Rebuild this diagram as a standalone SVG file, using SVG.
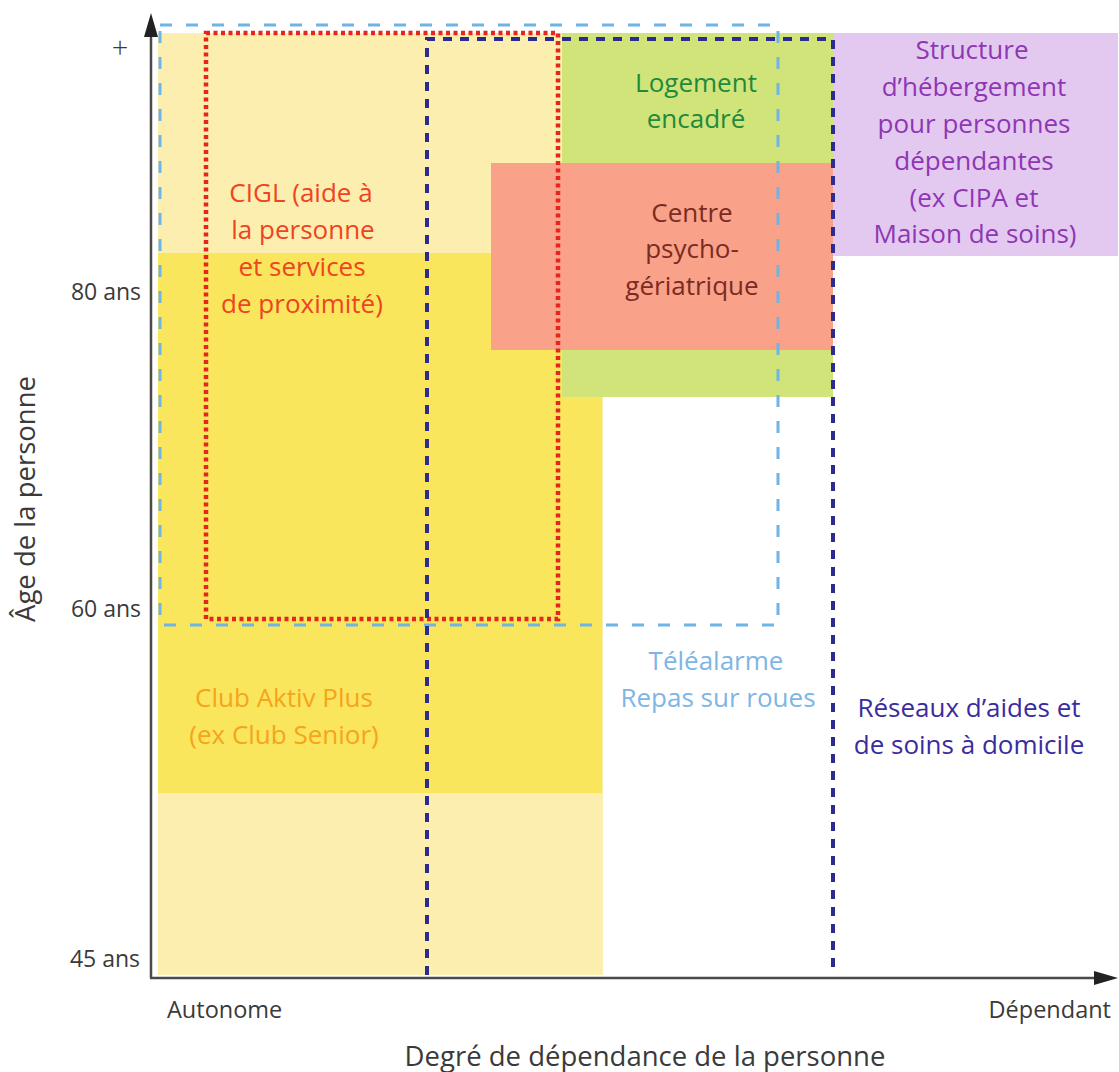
<svg xmlns="http://www.w3.org/2000/svg" width="1119" height="1072" viewBox="0 0 1119 1072">
<defs>
<style>
text{font-family:"Open Sans","Noto Sans","Liberation Sans",sans-serif;}
.lbl{font-size:26px;text-anchor:middle;}
.tick{font-size:23px;fill:#3a3a3a;text-anchor:end;}
.axl{font-size:23.5px;fill:#3a3a3a;}
.axt{font-size:27.5px;fill:#3a3a3a;text-anchor:middle;}
.axis{stroke:#4a4a4a;stroke-width:2.5;fill:none;}
</style>
</defs>
<rect width="1119" height="1072" fill="#ffffff"/>
<g id="zones">
<rect id="pale-yellow" x="158" y="33" width="445" height="942" fill="#FCEEAE"/>
<rect id="bright-yellow" x="158" y="253" width="444" height="540" fill="#F9E65C"/>
<rect id="green" x="562" y="33" width="271" height="364" fill="#D0E47A"/>
<rect id="salmon" x="491" y="163" width="342" height="187" fill="#F9A189"/>
<rect id="purple" x="833" y="33" width="285" height="223" fill="#E3C9EF"/>
</g>
<g id="outlines">
<rect id="teleal-box" x="160" y="25" width="618" height="600" fill="none" stroke="#6EB4E4" stroke-width="3" stroke-dasharray="12 14"/>
<rect id="cigl-box" x="206" y="33" width="352" height="586" fill="none" stroke="#E8251C" stroke-width="4.5" stroke-dasharray="4 3.5"/>
<path id="reseaux-box" d="M427,975 V39 H833 V975" fill="none" stroke="#2D2B8E" stroke-width="4" stroke-dasharray="9 8"/>
</g>
<g id="axes">
<line class="axis" x1="151" y1="978" x2="151" y2="34"/>
<polygon points="151,13 144,37 158,37" fill="#222"/>
<line class="axis" x1="150" y1="978" x2="1096" y2="978"/>
<polygon points="1118,978 1094,971 1094,985" fill="#222"/>
<text x="120" y="58" style="font-size:29px;font-weight:300;fill:#3a3a3a;text-anchor:middle">+</text>
<text class="tick" x="141" y="300">80 ans</text>
<text class="tick" x="141" y="617">60 ans</text>
<text class="tick" x="140" y="967">45 ans</text>
<text class="axt" transform="translate(35,499) rotate(-90)">Âge de la personne</text>
<text class="axl" x="167" y="1018">Autonome</text>
<text class="axl" x="1111" y="1018" text-anchor="end">Dépendant</text>
<text class="axt" x="645" y="1066">Degré de dépendance de la personne</text>
</g>
<g id="cigl">
<text class="lbl" fill="#EE4423" x="301" y="202">CIGL (aide à</text>
<text class="lbl" fill="#EE4423" x="303" y="239">la personne</text>
<text class="lbl" fill="#EE4423" x="302" y="276">et services</text>
<text class="lbl" fill="#EE4423" x="302" y="313">de proximité)</text>
</g>
<g id="logement">
<text class="lbl" fill="#1F8A3B" x="696" y="92">Logement</text>
<text class="lbl" fill="#1F8A3B" x="696" y="128">encadré</text>
</g>
<g id="centre">
<text class="lbl" fill="#7A2B22" x="692" y="222">Centre</text>
<text class="lbl" fill="#7A2B22" x="692" y="258">psycho-</text>
<text class="lbl" fill="#7A2B22" x="692" y="295">gériatrique</text>
</g>
<g id="structure">
<text class="lbl" fill="#8E36B4" x="972" y="59">Structure</text>
<text class="lbl" fill="#8E36B4" x="974" y="96">d’hébergement</text>
<text class="lbl" fill="#8E36B4" x="974" y="133">pour personnes</text>
<text class="lbl" fill="#8E36B4" x="974" y="170">dépendantes</text>
<text class="lbl" fill="#8E36B4" x="974" y="207">(ex CIPA et</text>
<text class="lbl" fill="#8E36B4" x="975" y="243">Maison de soins)</text>
</g>
<g id="telealarme">
<text class="lbl" fill="#7DB6E5" x="716" y="670">Téléalarme</text>
<text class="lbl" fill="#7DB6E5" x="718" y="707">Repas sur roues</text>
</g>
<g id="reseaux">
<text class="lbl" fill="#3A2C9E" x="969" y="717">Réseaux d’aides et</text>
<text class="lbl" fill="#3A2C9E" x="969" y="754">de soins à domicile</text>
</g>
<g id="club">
<text class="lbl" fill="#F7A31C" x="284" y="707">Club Aktiv Plus</text>
<text class="lbl" fill="#F7A31C" x="284" y="744">(ex Club Senior)</text>
</g>
<g id="connectors"></g>
</svg>
